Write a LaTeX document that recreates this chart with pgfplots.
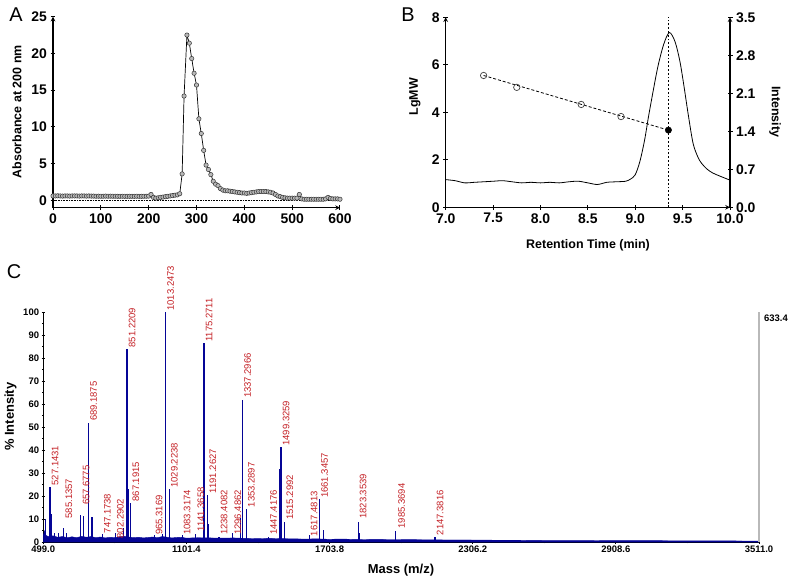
\documentclass[border=0pt]{standalone}
\usepackage{fontspec}
\setmainfont{Liberation Sans}
\usepackage{pgfplots}
\pgfplotsset{compat=1.18}
\definecolor{navy}{RGB}{5,5,150}
\definecolor{pkred}{RGB}{195,30,35}
\begin{document}
\begin{tikzpicture}
\pgfplotsset{every axis/.append style={scale only axis,
  /pgf/number format/assume math mode=true,
  axis line style={-, line width=1.1bp, black},
  every tick/.style={line width=1bp, black},
  tick align=outside}}
% ---------------- Panel A ----------------
\begin{axis}[at={(53bp,369.3bp)}, anchor=south west, width=287bp, height=191bp,
  xmin=0, xmax=600, ymin=-1, ymax=25,
  axis x line=bottom, axis y line=left,
  xtick={0,100,...,600}, ytick={0,5,...,25},
  major tick length=5bp,
  tick label style={font=\bfseries\fontsize{14}{14}\selectfont},
  clip=false]
\addplot[densely dotted, black, line width=0.6bp] coordinates {(0,0) (600,0)};
\addplot[black, line width=0.7bp, mark=*, mark size=2.2bp,
  mark options={fill=gray!55, draw=black!80, line width=0.5bp}] coordinates {
(0,0.6)(5,0.6)(10,0.62)(15,0.6)(20,0.58)(25,0.6)(30,0.6)(35,0.58)(40,0.6)(45,0.6)
(50,0.6)(55,0.58)(60,0.6)(65,0.6)(70,0.58)(75,0.6)(80,0.58)(85,0.58)(90,0.56)(95,0.57)
(100,0.56)(105,0.56)(110,0.58)(115,0.56)(120,0.57)(125,0.56)(130,0.56)(135,0.55)(140,0.55)(145,0.56)
(150,0.55)(155,0.55)(160,0.55)(165,0.55)(170,0.55)(175,0.56)(180,0.55)(185,0.55)(190,0.56)(195,0.56)
(200,0.58)(205,0.8)(210,0.4)(215,0.3)(220,0.35)(225,0.4)(230,0.45)(235,0.5)(240,0.55)(245,0.6)
(250,0.65)(255,0.7)(260,0.75)(265,0.9)(270,3.6)(274,14.2)(280,22.5)(285,21.4)(290,19.3)(295,17.3)
(300,15.7)(305,11.1)(310,9.1)(315,6.8)(320,4.8)(325,4.2)(330,3.5)(335,2.6)(340,2.2)(345,2.0)
(350,1.6)(355,1.4)(360,1.3)(365,1.3)(370,1.25)(375,1.2)(380,1.15)(385,1.1)(390,1.05)(395,1.0)
(400,1.0)(405,0.95)(410,1.0)(415,1.05)(420,1.1)(425,1.15)(430,1.2)(435,1.2)(440,1.2)(445,1.2)
(450,1.15)(455,1.1)(460,1.0)(465,0.8)(470,0.6)(475,0.5)(480,0.4)(485,0.35)(490,0.3)(495,0.3)
(500,0.3)(505,0.3)(510,0.3)(515,0.8)(520,0.2)(525,0.15)(530,0.15)(535,0.15)(540,0.15)(545,0.15)
(550,0.15)(555,0.15)(560,0.15)(565,0.15)(570,0.2)(575,0.4)(580,0.25)(585,0.2)(590,0.2)(595,0.2)(600,0.15)};
\end{axis}
% ---------------- Panel B ----------------
\begin{axis}[at={(445.7bp,369.7bp)}, anchor=south west, width=284.3bp, height=190bp,
  xmin=7, xmax=10, ymin=0, ymax=8,
  axis x line=bottom, axis y line=left,
  xtick={7,7.5,...,10}, ytick={0,2,...,8},
  major tick length=5bp,
  xticklabel style={/pgf/number format/.cd, fixed, fixed zerofill, precision=1},
  tick label style={font=\bfseries\fontsize{14}{14}\selectfont},
  clip=false]
\addplot[black, line width=1.8bp, dotted] coordinates {(9.35,0) (9.35,8)};
\addplot[black, line width=0.8bp, densely dashed] coordinates {(7.4,5.55) (9.35,3.25)};
\addplot[only marks, mark=o, mark size=3.2bp, mark options={draw=black!75, fill=white, line width=0.7bp}]
  coordinates {(7.4,5.55) (7.75,5.05) (8.43,4.33) (8.85,3.82)};
\addplot[only marks, mark=*, mark size=3.2bp, black] coordinates {(9.35,3.25)};
\end{axis}
\begin{axis}[at={(445.7bp,369.7bp)}, anchor=south west, width=284.3bp, height=190bp,
  xmin=7, xmax=10, ymin=0, ymax=3.5,
  axis x line=none, axis y line=right,
  ytick={0,0.7,...,3.5},
  major tick length=5bp,
  yticklabel style={/pgf/number format/.cd, fixed, fixed zerofill, precision=1},
  tick label style={font=\bfseries\fontsize{14}{14}\selectfont}]
\addplot[black, line width=0.8bp, smooth] coordinates {
(7.0,0.51)(7.1,0.49)(7.2,0.45)(7.3,0.46)(7.4,0.47)(7.5,0.48)(7.6,0.49)(7.7,0.47)(7.8,0.45)(7.9,0.46)
(8.0,0.45)(8.1,0.46)(8.2,0.45)(8.3,0.47)(8.4,0.48)(8.5,0.45)(8.6,0.42)(8.7,0.46)(8.8,0.47)(8.9,0.48)
(8.95,0.52)(9.0,0.6)(9.05,0.85)(9.1,1.25)(9.14,1.67)(9.19,2.15)(9.24,2.6)(9.3,3.0)(9.36,3.22)(9.42,3.05)
(9.47,2.7)(9.51,2.28)(9.56,1.7)(9.61,1.18)(9.66,0.93)(9.70,0.81)(9.76,0.7)(9.82,0.63)(9.9,0.57)(10.0,0.5)};
\end{axis}
% ---------------- Panel C ----------------
\begin{axis}[at={(43.3bp,34.7bp)}, anchor=south west, width=715.7bp, height=230bp,
  xmin=499, xmax=3511, ymin=0, ymax=100,
  axis x line=bottom, axis y line=left,
  axis line style={-, line width=0.9bp, black},
  xtick={499,1101.4,1703.8,2306.2,2908.6,3511},
  xticklabels={499.0,1101.4,1703.8,2306.2,2908.6,3511.0},
  ytick={0,10,...,100}, minor x tick num=1, minor y tick num=1,
  major tick length=3.5bp, minor tick length=2bp,
  every tick/.style={line width=0.8bp, black},
  tick label style={font=\bfseries\fontsize{9.5}{10}\selectfont},
  xticklabel style={yshift=2bp}, yticklabel style={xshift=1bp},
  clip=false]
\addplot[fill=navy, draw=navy, line width=0.4bp] coordinates {
(499,0)(499,3)(505,5)(510,3)(520,2.5)(540,2.8)(560,2.2)(580,2.5)(600,2)(620,2.4)(640,2)(660,2.6)
(680,2.2)(700,2.5)(720,2)(740,2.3)(760,1.9)(780,2.2)(800,2)(820,2.4)(840,2.6)(860,2.3)(880,2)
(900,2.2)(920,1.9)(940,2.1)(960,2.3)(980,2)(1000,2.5)(1020,2.2)(1040,1.9)(1060,2.1)(1080,2.2)
(1100,1.8)(1150,2.0)(1200,1.9)(1250,1.8)(1300,1.9)(1350,1.7)(1400,1.6)(1450,1.7)(1500,1.6)
(1550,1.5)(1600,1.4)(1650,1.5)(1700,1.3)(1750,1.4)(1800,1.3)(1850,1.2)(1900,1.3)(1950,1.2)
(2000,1.2)(2100,1.1)(2200,1.0)(2300,1.0)(2400,0.9)(2500,0.9)(2600,0.8)(2700,0.8)(2800,0.8)
(2900,0.7)(3000,0.7)(3100,0.7)(3200,0.6)(3300,0.6)(3400,0.6)(3511,0.5)(3511,0)};
\addplot[ycomb, navy, line width=1.1bp] coordinates {
(509,10)(527.14,24)(534,12.3)(548,4)(563,4)(585.14,6)(595,4)(656,11.7)(670,11.5)(689.19,52)(704,11)
(747.17,3.5)(802.29,4)(835,6.4)(851.22,84)(856,23)(866.8,17)(965.32,3)(1000,3.5)(1013.25,100)(1029.22,23)
(1083.32,3)(1141.37,3.5)(1175.27,86.5)(1177,55)(1191.26,20.6)(1196,8)(1238.41,2.5)(1296.49,4)(1330,10.4)
(1337.30,62)(1353.29,14.3)(1447.42,2.5)(1495,32)(1499.33,41.3)(1515.30,9)(1617.48,3)(1660.7,18.8)(1677,5.4)
(1824.8,9)(1830,4)(1983,5)(2147.38,2.5)};
\draw[gray!55, line width=1.5bp] (axis cs:3511,0) -- (axis cs:3511,100);
\node[anchor=north west, font=\bfseries\fontsize{9.5}{10}\selectfont, inner sep=0pt]
  at ([xshift=5bp,yshift=-2bp]axis cs:3511,100) {633.4};
\begin{scope}[every node/.style={rotate=90, anchor=north west, inner sep=1.5bp,
   text=pkred, font=\fontsize{9.5}{9.5}\selectfont}]
\node at (axis cs:527.14,24) {527.1431};
\node at (axis cs:585.14,9.7) {585.1357};
\node at (axis cs:657.68,15.5) {657.6775};
\node at (axis cs:689.19,52) {689.1875};
\node at (axis cs:747.17,3.2) {747.1738};
\node at (axis cs:802.29,1) {802.2902};
\node at (axis cs:851.22,84) {851.2209};
\node at (axis cs:867.19,17) {867.1915};
\node at (axis cs:965.32,2.5) {965.3169};
\node at (axis cs:1013.25,100) {1013.2473};
\node at (axis cs:1029.22,23) {1029.2238};
\node at (axis cs:1083.32,2.5) {1083.3174};
\node at (axis cs:1141.37,4) {1141.3658};
\node at (axis cs:1175.27,86.5) {1175.2711};
\node at (axis cs:1191.26,20.6) {1191.2627};
\node at (axis cs:1238.41,2.5) {1238.4082};
\node at (axis cs:1296.49,2.5) {1296.4862};
\node at (axis cs:1337.30,62) {1337.2966};
\node at (axis cs:1353.29,14.5) {1353.2897};
\node at (axis cs:1447.42,2.5) {1447.4176};
\node at (axis cs:1499.33,41.3) {1499.3259};
\node at (axis cs:1515.30,9) {1515.2992};
\node at (axis cs:1617.48,2) {1617.4813};
\node at (axis cs:1661.35,18.6) {1661.3457};
\node at (axis cs:1823.35,9.5) {1823.3539};
\node at (axis cs:1985.37,5.3) {1985.3694};
\node at (axis cs:2147.38,2.4) {2147.3816};
\end{scope}
\end{axis}
% ---------------- labels ----------------
\node[font=\fontsize{20}{20}\selectfont] at (16bp,562bp) {A};
\node[font=\fontsize{20}{20}\selectfont] at (408bp,562bp) {B};
\node[font=\fontsize{20}{20}\selectfont] at (14bp,305bp) {C};
\node[rotate=90, font=\bfseries\fontsize{12.5}{13}\selectfont] at (17bp,465.3bp) {Absorbance at 200 nm};
\node[rotate=90, font=\bfseries\fontsize{12.5}{13}\selectfont] at (415bp,480.3bp) {LgMW};
\node[rotate=-90, font=\bfseries\fontsize{12.5}{13}\selectfont] at (775bp,465.3bp) {Intensity};
\node[font=\bfseries\fontsize{12.5}{13}\selectfont] at (588bp,331.3bp) {Retention Time (min)};
\node[rotate=90, font=\bfseries\fontsize{13}{13}\selectfont] at (10.5bp,160.3bp) {\% Intensity};
\node[font=\bfseries\fontsize{13}{13}\selectfont] at (401bp,7bp) {Mass (m/z)};
\pgfresetboundingbox
\useasboundingbox (0,0) rectangle (797bp,577bp);
\end{tikzpicture}
\end{document}
